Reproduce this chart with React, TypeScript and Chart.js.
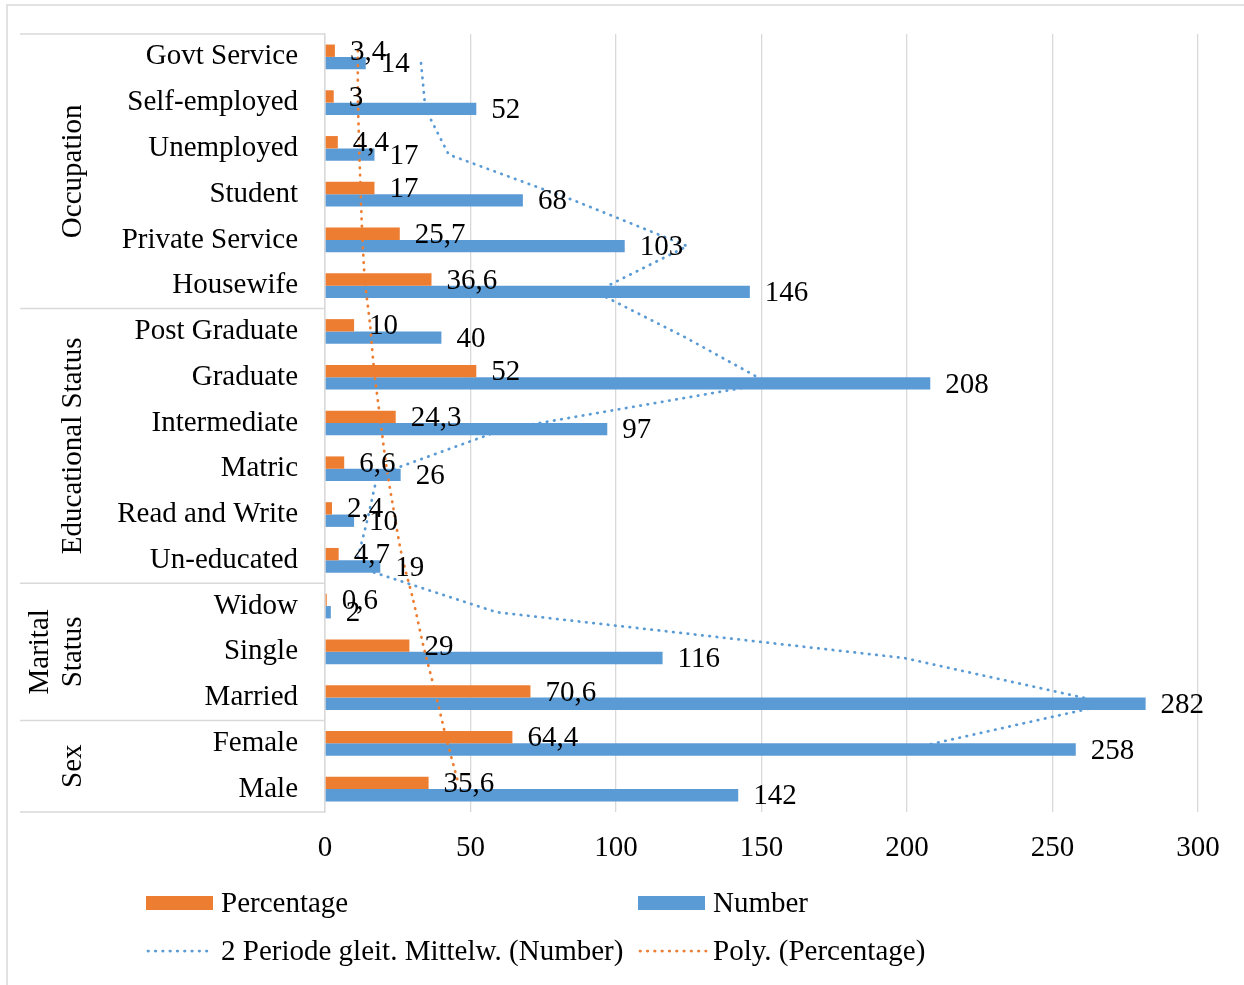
import React, { useEffect, useRef } from "react";
import { Chart, registerables } from "chart.js";

Chart.register(...registerables);

// ---------- data (top to bottom as drawn) ----------
const categories = [
  "Govt Service",
  "Self-employed",
  "Unemployed",
  "Student",
  "Private Service",
  "Housewife",
  "Post Graduate",
  "Graduate",
  "Intermediate",
  "Matric",
  "Read and Write",
  "Un-educated",
  "Widow",
  "Single",
  "Married",
  "Female",
  "Male",
];
const percentage = [3.4, 3, 4.4, 17, 25.7, 36.6, 10, 52, 24.3, 6.6, 2.4, 4.7, 0.6, 29, 70.6, 64.4, 35.6];
const numbers = [14, 52, 17, 68, 103, 146, 40, 208, 97, 26, 10, 19, 2, 116, 282, 258, 142];
// 2-period moving average trendline of Number
const movingAvgNumber = [33, 34.5, 42.5, 85.5, 124.5, 93, 124, 152.5, 61.5, 18, 14.5, 10.5, 59, 199, 270, 200, null];
// polynomial trendline of Percentage
const polyPercentage = [11.3, 11.3, 11.7, 12.2, 12.8, 13.7, 15.5, 16.9, 18.9, 20.9, 23.5, 26.3, 30.3, 33.8, 37.8, 41.6, 45.8];

const groupNames = [["Occupation"], ["Educational Status"], ["Marital", "Status"], ["Sex"]];
const groupSizes = [6, 6, 3, 2];

const xMin = 0;
const xMax = 300;
const xStep = 50;

const seriesLabels = ["Percentage", "Number", "2 Periode gleit. Mittelw. (Number)", "Poly. (Percentage)"];

// ---------- styles ----------
const ORANGE = "#ED7D31";
const BLUE = "#5B9BD5";
const GRID = "#d9d9d9";
const FONT_FAMILY = '"Liberation Serif", "Times New Roman", serif';
const FONT_SIZE = 29;
const FONT = `${FONT_SIZE}px ${FONT_FAMILY}`;

const fmt = (v: number) => String(v).replace(".", ",");

const decorPlugin = {
  id: "decor",
  beforeDatasetDraw(chart: any, args: any) {
    const ds = chart.data.datasets[args.index];
    if (ds.trendOf === undefined) return;
    const barMeta = chart.getDatasetMeta(ds.trendOf);
    const el = barMeta.data[0];
    const off = el.y - chart.scales.y.getPixelForValue(0);
    chart.ctx.save();
    chart.ctx.translate(0, off);
  },
  afterDatasetDraw(chart: any, args: any) {
    const ds = chart.data.datasets[args.index];
    if (ds.trendOf === undefined) return;
    chart.ctx.restore();
  },
  afterDatasetsDraw(chart: any) {
    const ctx = chart.ctx;
    ctx.save();
    ctx.font = FONT;
    ctx.fillStyle = "#000";
    ctx.textAlign = "left";
    ctx.textBaseline = "middle";
    chart.data.datasets.forEach((ds: any, di: number) => {
      if (ds.type !== "bar") return;
      const meta = chart.getDatasetMeta(di);
      meta.data.forEach((el: any, i: number) => {
        ctx.fillText(fmt(ds.data[i]), el.x + 15, el.y + 1.5);
      });
    });
    ctx.restore();
  },
  afterDraw(chart: any) {
    const ctx = chart.ctx;
    const ys = chart.scales.y;
    const area = chart.chartArea;
    ctx.save();

    // outer border
    ctx.strokeStyle = GRID;
    ctx.lineWidth = 1.5;
    ctx.strokeRect(7, 5, chart.width + 20, chart.height + 20);

    // group separators and labels
    const bound = (i: number) => {
      if (i <= 0) return area.top;
      if (i >= categories.length) return area.bottom;
      return (ys.getPixelForValue(i - 1) + ys.getPixelForValue(i)) / 2;
    };
    let start = 0;
    const lines: number[] = [bound(0)];
    groupSizes.forEach((n, gi) => {
      const y0 = bound(start);
      const y1 = bound(start + n);
      lines.push(y1);
      const cy = (y0 + y1) / 2;
      const names = groupNames[gi];
      ctx.font = FONT;
      ctx.fillStyle = "#000";
      ctx.textAlign = "center";
      ctx.textBaseline = "middle";
      names.forEach((t, li) => {
        const cx = 73 - (names.length - 1 - li) * 33;
        ctx.save();
        ctx.translate(cx, cy);
        ctx.rotate(-Math.PI / 2);
        ctx.fillText(t, 0, 0);
        ctx.restore();
      });
      start += n;
    });
    ctx.strokeStyle = GRID;
    ctx.lineWidth = 1.5;
    lines.forEach((y) => {
      ctx.beginPath();
      ctx.moveTo(20, y);
      ctx.lineTo(area.left, y);
      ctx.stroke();
    });

    // legend
    ctx.font = FONT;
    ctx.textAlign = "left";
    ctx.textBaseline = "middle";
    const colX = [146, 638];
    const textX = [221, 713];
    const rowY = [903, 951];
    ctx.fillStyle = ORANGE;
    ctx.fillRect(colX[0], rowY[0] - 7, 67, 14);
    ctx.fillStyle = BLUE;
    ctx.fillRect(colX[1], rowY[0] - 7, 67, 14);
    const dotted = (x0: number, x1: number, y: number, c: string) => {
      ctx.save();
      ctx.strokeStyle = c;
      ctx.lineWidth = 2.75;
      ctx.lineCap = "round";
      ctx.setLineDash([0.5, 6.8]);
      ctx.beginPath();
      ctx.moveTo(x0, y);
      ctx.lineTo(x1, y);
      ctx.stroke();
      ctx.restore();
    };
    dotted(148, 210, rowY[1], BLUE);
    dotted(640, 706, rowY[1], ORANGE);
    ctx.fillStyle = "#000";
    ctx.fillText(seriesLabels[0], textX[0], rowY[0] + 1);
    ctx.fillText(seriesLabels[1], textX[1], rowY[0] + 1);
    ctx.fillText(seriesLabels[2], textX[0], rowY[1] + 1);
    ctx.fillText(seriesLabels[3], textX[1], rowY[1] + 1);

    ctx.restore();
  },
};

export default function App() {
  const ref = useRef<HTMLCanvasElement | null>(null);

  useEffect(() => {
    if (!ref.current) return;
    const chart = new Chart(ref.current, {
      type: "bar",
      data: {
        labels: categories,
        datasets: [
          {
            type: "bar",
            label: seriesLabels[0],
            data: percentage,
            backgroundColor: ORANGE,
            borderWidth: 0,
            order: 1,
          } as any,
          {
            type: "bar",
            label: seriesLabels[1],
            data: numbers,
            backgroundColor: BLUE,
            borderWidth: 0,
            order: 1,
          } as any,
          {
            type: "line",
            label: seriesLabels[2],
            data: movingAvgNumber,
            borderColor: BLUE,
            borderWidth: 2.75,
            borderDash: [0.5, 6.8],
            borderCapStyle: "round",
            pointRadius: 0,
            tension: 0,
            spanGaps: false,
            order: 0,
            trendOf: 1,
          } as any,
          {
            type: "line",
            label: seriesLabels[3],
            data: polyPercentage,
            borderColor: ORANGE,
            borderWidth: 2.75,
            borderDash: [0.5, 6.8],
            borderCapStyle: "round",
            pointRadius: 0,
            tension: 0.3,
            order: 0,
            trendOf: 0,
          } as any,
        ],
      },
      options: {
        indexAxis: "y",
        animation: false,
        responsive: false,
        maintainAspectRatio: false,
        devicePixelRatio: 1,
        datasets: {
          bar: { categoryPercentage: 0.54, barPercentage: 1 },
        },
        layout: { padding: { left: 0, top: 34, right: 46, bottom: 0 } },
        plugins: {
          legend: { display: false },
          tooltip: { enabled: false },
          title: { display: false },
        },
        scales: {
          x: {
            type: "linear",
            min: xMin,
            max: xMax,
            ticks: {
              stepSize: xStep,
              color: "#000",
              font: { family: FONT_FAMILY, size: FONT_SIZE },
              padding: 19,
            },
            grid: { color: GRID, lineWidth: 1.3, drawTicks: false },
            border: { display: false },
            afterFit: (s: any) => {
              s.height = 173;
              s.paddingLeft = 0;
              s.paddingRight = 0;
            },
          },
          y: {
            type: "category",
            ticks: {
              color: "#000",
              font: { family: FONT_FAMILY, size: FONT_SIZE },
              padding: 27,
              autoSkip: false,
            },
            grid: { display: false, drawTicks: false },
            border: { display: true, color: GRID, width: 1.5 },
            afterFit: (s: any) => {
              s.width = 325;
              s.paddingTop = 0;
              s.paddingBottom = 0;
            },
          },
        },
      },
      plugins: [decorPlugin],
    });
    return () => chart.destroy();
  }, []);

  return (
    <div style={{ position: "absolute", left: 0, top: 0, width: 1244, height: 985, background: "#fff" }}>
      <canvas ref={ref} width={1244} height={985} style={{ display: "block" }} />
    </div>
  );
}
